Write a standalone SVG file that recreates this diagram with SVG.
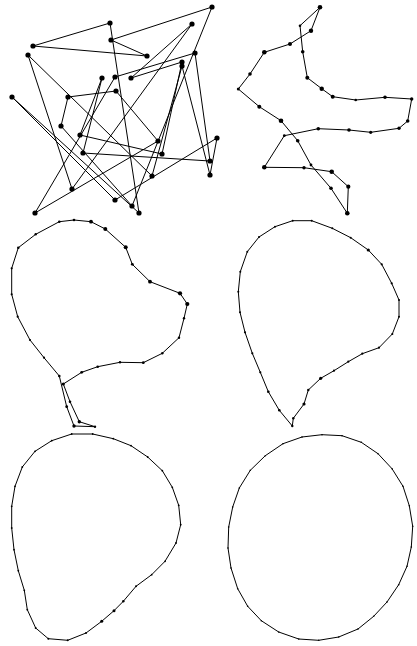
<svg xmlns="http://www.w3.org/2000/svg" width="417" height="646" viewBox="0 0 417 646">
<style>
.ln{fill:none;stroke:#000;stroke-width:1;stroke-linejoin:round}
.d{fill:#000}
</style>
<rect width="417" height="646" fill="#fff"/>
<g id="panel1">
<polygon class="ln" points="212,7 111,40 147,56 33,46 110,23 139,213 12,97 115,200 217,138 210,175 182,66 152,176 28,55 72,189 192,24 131,78 182,62 162,154 80,135 102,78 83,153 210,161 195,53 115,77 35,213 158,141 116,91 68,97 61,126 132,206"/>
<g class="d">
<circle cx="212" cy="7" r="2.6"/><circle cx="111" cy="40" r="2.6"/><circle cx="147" cy="56" r="2.6"/><circle cx="33" cy="46" r="2.6"/><circle cx="110" cy="23" r="2.6"/><circle cx="139" cy="213" r="2.6"/><circle cx="12" cy="97" r="2.6"/><circle cx="115" cy="200" r="2.6"/><circle cx="217" cy="138" r="2.6"/><circle cx="210" cy="175" r="2.6"/><circle cx="182" cy="66" r="2.6"/><circle cx="152" cy="176" r="2.6"/><circle cx="28" cy="55" r="2.6"/><circle cx="72" cy="189" r="2.6"/><circle cx="192" cy="24" r="2.6"/><circle cx="131" cy="78" r="2.6"/><circle cx="182" cy="62" r="2.6"/><circle cx="162" cy="154" r="2.6"/><circle cx="80" cy="135" r="2.6"/><circle cx="102" cy="78" r="2.6"/><circle cx="83" cy="153" r="2.6"/><circle cx="210" cy="161" r="2.6"/><circle cx="195" cy="53" r="2.6"/><circle cx="115" cy="77" r="2.6"/><circle cx="35" cy="213" r="2.6"/><circle cx="158" cy="141" r="2.6"/><circle cx="116" cy="91" r="2.6"/><circle cx="68" cy="97" r="2.6"/><circle cx="61" cy="126" r="2.6"/><circle cx="132" cy="206" r="2.6"/>
</g>
</g>
<g id="panel2">
<polygon class="ln" points="320,7.3 311,30.7 290,44 264.3,52.3 250,74 238.3,89 259.3,106.7 281,120.7 297.7,140.7 311,165 331,188.3 347.3,213.3 348.3,186.7 331.7,171.7 304,167.7 264.3,167.3 284.3,135.7 318.3,128.7 349,130 370.7,132.3 399,128.3 407.7,121 411.7,99 385,97.3 355.7,100 332.7,96.7 321.7,88.7 307.3,77.7 302.7,51.7 300,25.7"/>
<g class="d">
<circle cx="320" cy="7.3" r="2.3"/><circle cx="311" cy="30.7" r="2.2"/><circle cx="290" cy="44" r="2"/><circle cx="264.3" cy="52.3" r="2.3"/><circle cx="250" cy="74" r="1.8"/><circle cx="238.3" cy="89" r="1.5"/><circle cx="259.3" cy="106.7" r="2"/><circle cx="281" cy="120.7" r="2.3"/><circle cx="297.7" cy="140.7" r="1.8"/><circle cx="311" cy="165" r="1.4"/><circle cx="331" cy="188.3" r="1.8"/><circle cx="347.3" cy="213.3" r="2.3"/><circle cx="348.3" cy="186.7" r="2.1"/><circle cx="331.7" cy="171.7" r="2.3"/><circle cx="304" cy="167.7" r="1.7"/><circle cx="264.3" cy="167.3" r="2.3"/><circle cx="284.3" cy="135.7" r="1.4"/><circle cx="318.3" cy="128.7" r="1.8"/><circle cx="349" cy="130" r="1.8"/><circle cx="370.7" cy="132.3" r="1.6"/><circle cx="399" cy="128.3" r="1.7"/><circle cx="407.7" cy="121" r="1.8"/><circle cx="411.7" cy="99" r="1.7"/><circle cx="385" cy="97.3" r="1.8"/><circle cx="355.7" cy="100" r="1.3"/><circle cx="332.7" cy="96.7" r="2"/><circle cx="321.7" cy="88.7" r="2.2"/><circle cx="307.3" cy="77.7" r="2"/><circle cx="302.7" cy="51.7" r="1.8"/><circle cx="300" cy="25.7" r="1.3"/>
</g>
</g>
<g id="panel3">
<polygon class="ln" points="59.3,221.7 74,220 91,221.7 105.3,229 125.7,247.3 132.3,264.3 150,281.7 180,293.3 187.3,304 184,318.3 179,337.7 162.3,353.3 143.3,362.7 120,362.3 97.7,366.7 81.7,372.3 63.3,384 70,401.7 79.3,421.7 95,426.7 74,426 66.7,406.7 59.3,376 44,357.7 30,340 17.7,316.7 11.7,294.3 11.7,268.3 18.3,247.7 35.7,234.3"/>
<g class="d">
<circle cx="59.3" cy="221.7" r="1.3"/><circle cx="74" cy="220" r="1.3"/><circle cx="91" cy="221.7" r="1.9"/><circle cx="105.3" cy="229" r="2"/><circle cx="125.7" cy="247.3" r="2"/><circle cx="132.3" cy="264.3" r="1.4"/><circle cx="150" cy="281.7" r="1.9"/><circle cx="180" cy="293.3" r="2.1"/><circle cx="187.3" cy="304" r="2.1"/><circle cx="184" cy="318.3" r="1.2"/><circle cx="179" cy="337.7" r="1.2"/><circle cx="162.3" cy="353.3" r="1.2"/><circle cx="143.3" cy="362.7" r="1.4"/><circle cx="120" cy="362.3" r="1.2"/><circle cx="97.7" cy="366.7" r="1.3"/><circle cx="81.7" cy="372.3" r="1.4"/><circle cx="63.3" cy="384" r="1.6"/><circle cx="70" cy="401.7" r="1.3"/><circle cx="79.3" cy="421.7" r="1.7"/><circle cx="95" cy="426.7" r="1.2"/><circle cx="74" cy="426" r="1.7"/><circle cx="66.7" cy="406.7" r="1.4"/><circle cx="59.3" cy="376" r="1.3"/><circle cx="44" cy="357.7" r="1.1"/><circle cx="30" cy="340" r="1.1"/><circle cx="17.7" cy="316.7" r="1.1"/><circle cx="11.7" cy="294.3" r="1.1"/><circle cx="11.7" cy="268.3" r="1.1"/><circle cx="18.3" cy="247.7" r="1.3"/><circle cx="35.7" cy="234.3" r="1.2"/>
</g>
</g>
<g id="panel4">
<polygon class="ln" points="292.7,220.7 311.7,220.7 332.3,228.3 350.7,237.7 368.3,250 381.7,264.3 391.7,283.3 399,300 399,316.7 392.3,334 379,347.7 362.3,353.7 348.3,361.7 334,370.7 320.7,378.3 308.3,390 304,404 293.3,418.3 292.3,426 279.3,410.3 268.3,391.7 260.3,372.3 252.3,353.3 245,332.3 240,312.3 238.3,291.7 240.3,271.7 247.3,251.7 259,237 275,226.7"/>
<g class="d">
<circle cx="292.7" cy="220.7" r="1"/><circle cx="311.7" cy="220.7" r="1"/><circle cx="332.3" cy="228.3" r="1"/><circle cx="350.7" cy="237.7" r="1"/><circle cx="368.3" cy="250" r="1.6"/><circle cx="381.7" cy="264.3" r="1.1"/><circle cx="391.7" cy="283.3" r="1.1"/><circle cx="399" cy="300" r="1"/><circle cx="399" cy="316.7" r="1"/><circle cx="392.3" cy="334" r="1.1"/><circle cx="379" cy="347.7" r="1.1"/><circle cx="362.3" cy="353.7" r="1.1"/><circle cx="348.3" cy="361.7" r="1.1"/><circle cx="334" cy="370.7" r="1.1"/><circle cx="320.7" cy="378.3" r="1.6"/><circle cx="308.3" cy="390" r="1.2"/><circle cx="304" cy="404" r="1.6"/><circle cx="293.3" cy="418.3" r="1.2"/><circle cx="292.3" cy="426" r="1.2"/><circle cx="279.3" cy="410.3" r="1.3"/><circle cx="268.3" cy="391.7" r="1.3"/><circle cx="260.3" cy="372.3" r="1.1"/><circle cx="252.3" cy="353.3" r="1.1"/><circle cx="245" cy="332.3" r="1.1"/><circle cx="240" cy="312.3" r="1"/><circle cx="238.3" cy="291.7" r="1"/><circle cx="240.3" cy="271.7" r="1"/><circle cx="247.3" cy="251.7" r="1"/><circle cx="259" cy="237" r="1"/><circle cx="275" cy="226.7" r="1"/>
</g>
</g>
<g id="panel5">
<polygon class="ln" points="71.7,434 92.7,434 113.3,438.7 131,445.7 147.7,457 162.3,470.7 172.3,487.3 178.7,505.3 180.7,524.7 176,543 165,561.3 151.7,574.7 136,586.3 123.3,601.3 114,610.7 101.7,621.3 86,633 67.7,640.3 48.3,638.7 35.7,628 27.3,609.7 24.3,590.3 18.3,570.7 14,549.7 11.7,528 11.7,506.3 15,486.3 22.3,467 35,451.3 51.7,440.7"/>
<g class="d">
<circle cx="71.7" cy="434" r="0.9"/><circle cx="92.7" cy="434" r="0.9"/><circle cx="113.3" cy="438.7" r="0.9"/><circle cx="131" cy="445.7" r="0.9"/><circle cx="147.7" cy="457" r="0.9"/><circle cx="162.3" cy="470.7" r="0.9"/><circle cx="172.3" cy="487.3" r="0.9"/><circle cx="178.7" cy="505.3" r="0.9"/><circle cx="180.7" cy="524.7" r="0.9"/><circle cx="176" cy="543" r="0.9"/><circle cx="165" cy="561.3" r="0.9"/><circle cx="151.7" cy="574.7" r="0.9"/><circle cx="136" cy="586.3" r="1"/><circle cx="123.3" cy="601.3" r="1.2"/><circle cx="114" cy="610.7" r="1.5"/><circle cx="101.7" cy="621.3" r="1.5"/><circle cx="86" cy="633" r="1"/><circle cx="67.7" cy="640.3" r="1"/><circle cx="48.3" cy="638.7" r="1"/><circle cx="35.7" cy="628" r="1"/><circle cx="27.3" cy="609.7" r="0.9"/><circle cx="24.3" cy="590.3" r="0.9"/><circle cx="18.3" cy="570.7" r="0.9"/><circle cx="14" cy="549.7" r="0.9"/><circle cx="11.7" cy="528" r="0.9"/><circle cx="11.7" cy="506.3" r="0.9"/><circle cx="15" cy="486.3" r="0.9"/><circle cx="22.3" cy="467" r="0.9"/><circle cx="35" cy="451.3" r="0.9"/><circle cx="51.7" cy="440.7" r="0.9"/>
</g>
</g>
<g id="panel6">
<polygon class="ln" points="322,434.7 342,435.7 361.3,442.3 378,453.7 392,468.7 403,486.3 409.3,505.7 412.7,526.3 411.3,547 407,566.3 398.7,584.7 387,602 373.7,616.3 358,629 338.7,637 318.7,640.3 298.7,639 278.7,632 261.3,620.7 247.7,606.3 237.7,588.7 231,568 228,548 228.7,527 232.7,507 239.3,488 250.3,470.3 265.3,455.7 283,443.7 302,437"/>
<g class="d">
<circle cx="322" cy="434.7" r="0.8"/><circle cx="342" cy="435.7" r="0.8"/><circle cx="361.3" cy="442.3" r="0.8"/><circle cx="378" cy="453.7" r="0.8"/><circle cx="392" cy="468.7" r="0.8"/><circle cx="403" cy="486.3" r="0.8"/><circle cx="409.3" cy="505.7" r="0.8"/><circle cx="412.7" cy="526.3" r="0.8"/><circle cx="411.3" cy="547" r="0.8"/><circle cx="407" cy="566.3" r="0.8"/><circle cx="398.7" cy="584.7" r="0.8"/><circle cx="387" cy="602" r="0.8"/><circle cx="373.7" cy="616.3" r="0.8"/><circle cx="358" cy="629" r="0.8"/><circle cx="338.7" cy="637" r="0.8"/><circle cx="318.7" cy="640.3" r="0.8"/><circle cx="298.7" cy="639" r="0.8"/><circle cx="278.7" cy="632" r="0.8"/><circle cx="261.3" cy="620.7" r="0.8"/><circle cx="247.7" cy="606.3" r="0.8"/><circle cx="237.7" cy="588.7" r="0.8"/><circle cx="231" cy="568" r="0.8"/><circle cx="228" cy="548" r="0.8"/><circle cx="228.7" cy="527" r="0.8"/><circle cx="232.7" cy="507" r="0.8"/><circle cx="239.3" cy="488" r="0.8"/><circle cx="250.3" cy="470.3" r="0.8"/><circle cx="265.3" cy="455.7" r="0.8"/><circle cx="283" cy="443.7" r="0.8"/><circle cx="302" cy="437" r="0.8"/>
</g>
</g>
</svg>
